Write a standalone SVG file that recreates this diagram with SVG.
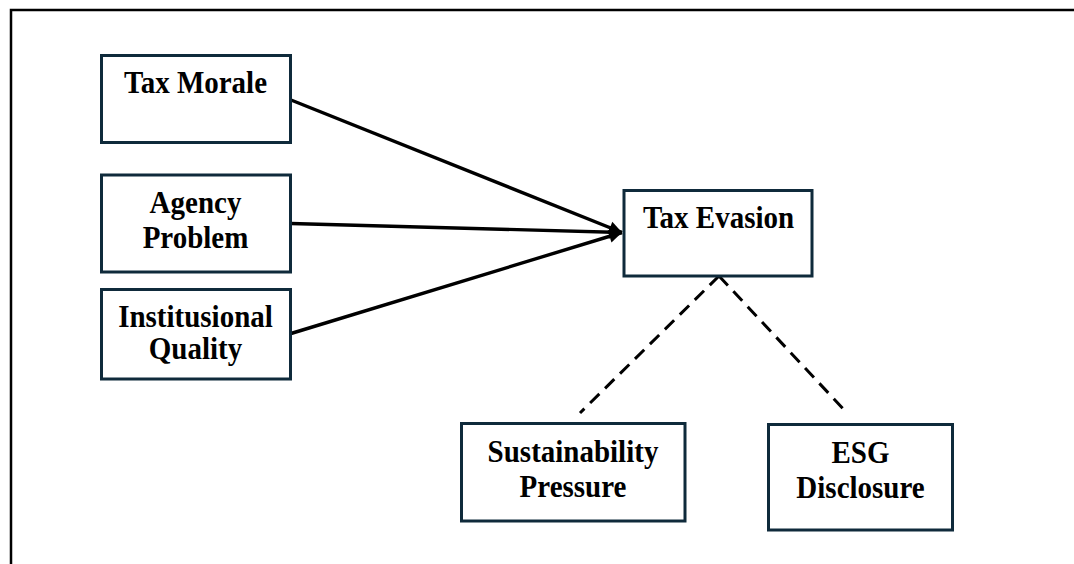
<svg xmlns="http://www.w3.org/2000/svg" width="1074" height="564" viewBox="0 0 1074 564">
  <defs>
    <style>
      .box { fill: #ffffff; stroke: #0f2a3b; stroke-width: 3; }
      .lbl { font-family: "Liberation Serif", "Times New Roman", serif; font-weight: bold; font-size: 29px; fill: #000000; text-anchor: middle; }
      .solid { stroke: #000000; stroke-width: 3.4; fill: none; }
      .dash { stroke: #000000; stroke-width: 3; fill: none; stroke-dasharray: 13 8; }
      .frame { stroke: #000000; stroke-width: 2.5; fill: none; }
    </style>
    <marker id="arrow" markerUnits="userSpaceOnUse" markerWidth="16" markerHeight="16" viewBox="0 0 16 16" refX="14" refY="8" orient="auto">
      <path d="M1,1.5 L14,8 L1,14.5 Z" fill="#000000"/>
    </marker>
  </defs>
  <rect width="1074" height="564" fill="#ffffff"/>
  <path class="frame" d="M11,564 L11,10 L1074,10"/>

  <g id="connectors">
    <line class="solid" x1="291" y1="100" x2="622" y2="232.5" marker-end="url(#arrow)"/>
    <line class="solid" x1="291" y1="223.5" x2="622" y2="232.5" marker-end="url(#arrow)"/>
    <line class="solid" x1="291" y1="333.5" x2="622" y2="232.5" marker-end="url(#arrow)"/>
    <path class="dash" d="M719,276 L580,413"/>
    <path class="dash" d="M719,276 L848,414"/>
  </g>

  <g id="tax-morale">
    <rect class="box" x="101.5" y="55.5" width="189" height="87"/>
    <text class="lbl" transform="translate(195.5,92.5) scale(1,1.1)">Tax Morale</text>
  </g>
  <g id="agency-problem">
    <rect class="box" x="101.5" y="175" width="189" height="97"/>
    <text class="lbl" transform="translate(195.5,213) scale(1,1.1)">Agency</text>
    <text class="lbl" transform="translate(195.5,248) scale(1,1.1)">Problem</text>
  </g>
  <g id="institutional-quality">
    <rect class="box" x="101.5" y="289.5" width="189" height="89.5"/>
    <text class="lbl" transform="translate(195.5,326.5) scale(1,1.1)">Institusional</text>
    <text class="lbl" transform="translate(195.5,359) scale(1,1.1)">Quality</text>
  </g>
  <g id="tax-evasion">
    <rect class="box" x="624" y="190.5" width="188" height="85.5"/>
    <text class="lbl" transform="translate(718.5,227.5) scale(1,1.1)">Tax Evasion</text>
  </g>
  <g id="sustainability-pressure">
    <rect class="box" x="461.5" y="423.5" width="223.5" height="97.5"/>
    <text class="lbl" transform="translate(573,461.5) scale(1,1.1)">Sustainability</text>
    <text class="lbl" transform="translate(573,496.5) scale(1,1.1)">Pressure</text>
  </g>
  <g id="esg-disclosure">
    <rect class="box" x="768.5" y="424.5" width="184" height="105.5"/>
    <text class="lbl" transform="translate(860.5,463) scale(1,1.1)">ESG</text>
    <text class="lbl" transform="translate(860.5,498) scale(1,1.1)">Disclosure</text>
  </g>
</svg>
